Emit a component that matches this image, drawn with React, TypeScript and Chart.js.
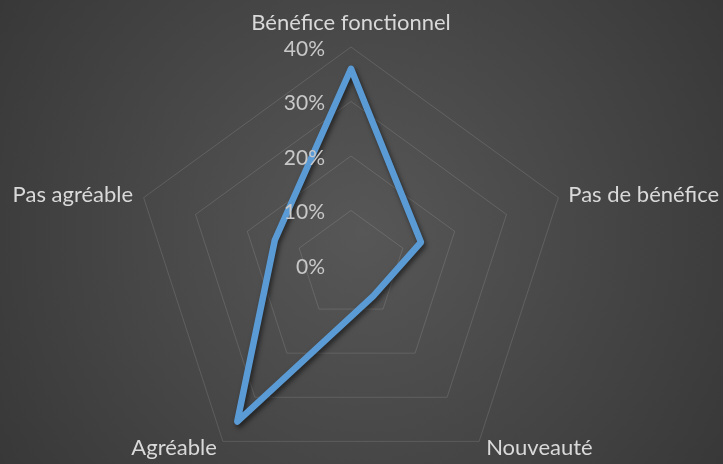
import React, { useEffect, useRef } from 'react';
import { Chart, registerables } from 'chart.js';

Chart.register(...registerables);

const CATEGORIES = ['Bénéfice fonctionnel', 'Pas de bénéfice', 'Nouveauté', 'Agréable', 'Pas agréable'];
const SERIES_VALUES = [36, 13.5, 7, 35.5, 14.7];
const TICK_VALUES = [0, 10, 20, 30, 40];
const TICK_LABELS = ['0%', '10%', '20%', '30%', '40%'];

const FONT = 'Lato, "Open Sans", sans-serif';
const LABEL_FONT_SIZE = 22;
const TICK_FONT_SIZE = 21;

const bgPlugin = {
  id: 'bgGradient',
  beforeDraw(chart: any) {
    const ctx = chart.ctx;
    const g = ctx.createRadialGradient(361, 232, 0, 361, 232, 430);
    g.addColorStop(0, '#575757');
    g.addColorStop(1, '#383838');
    ctx.save();
    ctx.fillStyle = g;
    ctx.fillRect(0, 0, chart.width, chart.height);
    ctx.restore();
  },
};

const shadowPlugin = {
  id: 'lineShadow',
  beforeDatasetsDraw(chart: any) {
    const ctx = chart.ctx;
    ctx.save();
    ctx.shadowColor = 'rgba(0,0,0,0.55)';
    ctx.shadowBlur = 5;
    ctx.shadowOffsetX = 2;
    ctx.shadowOffsetY = 3;
  },
  afterDatasetsDraw(chart: any) {
    chart.ctx.restore();
  },
};

const labelsPlugin = {
  id: 'customLabels',
  afterDraw(chart: any) {
    const ctx = chart.ctx;
    const scale = chart.scales.r;
    ctx.save();
    ctx.textBaseline = 'alphabetic';
    // tick labels
    ctx.font = `${TICK_FONT_SIZE}px ${FONT}`;
    ctx.fillStyle = '#c8c8c8';
    ctx.textAlign = 'right';
    scale.ticks.forEach((t: any) => {
      const d = scale.getDistanceFromCenterForValue(t.value);
      ctx.fillText(t.label, scale.xCenter - 26, scale.yCenter - d + 8.5);
    });
    // point labels
    ctx.font = `${LABEL_FONT_SIZE}px ${FONT}`;
    ctx.fillStyle = '#d9d9d9';
    const labels = chart.data.labels as string[];
    labels.forEach((label, i) => {
      const p = scale.getPointPosition(i, scale.drawingArea);
      const dx = p.x - scale.xCenter;
      const dy = p.y - scale.yCenter;
      let x = p.x;
      let y = p.y;
      if (Math.abs(dx) < 1) {
        ctx.textAlign = 'center';
        y = p.y - 17.5;
      } else if (dy < 0) {
        ctx.textAlign = dx > 0 ? 'left' : 'right';
        x = p.x + (dx > 0 ? 10 : -10.5);
        y = p.y + 4.2;
      } else {
        ctx.textAlign = dx > 0 ? 'left' : 'right';
        x = p.x + (dx > 0 ? 7 : -6);
        y = p.y + 13.6;
      }
      ctx.fillText(label, x, y);
    });
    ctx.restore();
  },
};

export default function App() {
  const ref = useRef<HTMLCanvasElement | null>(null);
  useEffect(() => {
    if (!ref.current) return;
    const chart = new Chart(ref.current, {
      type: 'radar',
      data: {
        labels: CATEGORIES,
        datasets: [
          {
            label: 'Série',
            data: SERIES_VALUES,
            borderColor: '#5B9BD5',
            backgroundColor: 'rgba(0,0,0,0)',
            borderWidth: 6.5,
            borderJoinStyle: 'round',
            fill: false,
            pointRadius: 0,
            pointHoverRadius: 0,
            tension: 0,
          },
        ],
      },
      options: {
        animation: false,
        responsive: false,
        devicePixelRatio: 1,
        layout: { padding: { top: 47, left: 0, right: 21, bottom: 17 } },
        plugins: { legend: { display: false }, tooltip: { enabled: false } },
        scales: {
          r: {
            min: TICK_VALUES[0],
            max: TICK_VALUES[TICK_VALUES.length - 1],
            ticks: {
              stepSize: TICK_VALUES[1] - TICK_VALUES[0],
              display: false,
              showLabelBackdrop: false,
              callback: (v: any) => {
                const idx = TICK_VALUES.indexOf(Number(v));
                return idx >= 0 ? TICK_LABELS[idx] : '';
              },
            },
            grid: { color: 'rgba(255,255,255,0.12)', lineWidth: 1 },
            angleLines: { display: false },
            pointLabels: { display: false },
          },
        },
      },
      plugins: [bgPlugin, shadowPlugin, labelsPlugin],
    });
    return () => chart.destroy();
  }, []);
  return (
    <div style={{ position: 'absolute', left: 0, top: 0, width: 723, height: 464, overflow: 'hidden' }}>
      <canvas ref={ref} width={723} height={500} style={{ display: 'block' }} />
    </div>
  );
}
